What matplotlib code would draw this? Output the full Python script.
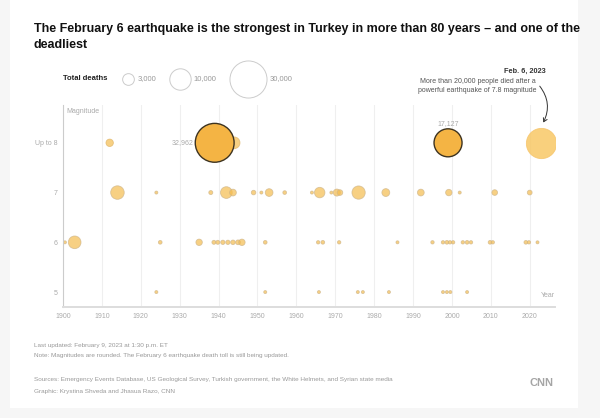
import numpy as np
import matplotlib.pyplot as plt
from matplotlib.patches import FancyArrowPatch, Rectangle

plt.rcParams['font.family'] = ['Liberation Sans', 'DejaVu Sans']

# ── Data: year of quake and total deaths, one list pair per magnitude row ──
years_m8  = [1912, 1944, 2023]
deaths_m8 = [1200, 3000, 20000]

years_m7  = [1914, 1924, 1938, 1942, 1943.7, 1949, 1951, 1953, 1957, 1964,
             1966, 1969, 1970.4, 1971.2, 1976, 1983, 1992, 1999.2, 2002, 2011, 2020]
deaths_m7 = [4000, 200, 350, 3000, 1000, 450, 200, 1300, 300, 200,
             2394, 200, 1086, 700, 3840, 1342, 1000, 900, 200, 700, 500]

years_m6  = [1900.5, 1903, 1925, 1935, 1938.8, 1939.8, 1941.1, 1942.4, 1943.7,
             1945, 1946, 1952, 1965.6, 1966.8, 1971, 1986, 1995, 1997.7, 1998.7,
             1999.5, 2000.3, 2002.8, 2003.9, 2004.9, 2009.8, 2010.5, 2019, 2019.8, 2022]
deaths_m6 = [200, 3500, 300, 900, 350, 350, 400, 400, 450,
             500, 900, 300, 250, 300, 250, 200, 250, 250, 300,
             250, 250, 250, 300, 250, 300, 250, 300, 250, 200]

years_m5  = [1924, 1952, 1965.8, 1975.8, 1977.1, 1983.8, 1997.7, 1998.7, 1999.6, 2003.9]
deaths_m5 = [200, 200, 200, 200, 200, 200, 200, 200, 200, 200]

# highlighted quakes (outlined + labelled)
hl_years  = [1939, 1999]
hl_mags   = [8, 8]
hl_deaths = [32962, 17127]

mag_ticks  = [8, 7, 6, 5]
mag_labels = ['Up to 8', '7', '6', '5']
decades    = list(range(1900, 2021, 10))
legend_vals = [3000, 10000, 30000]

W, H = 600, 418
K = 0.107  # radius px per sqrt(death)


def size_of(d):
    r_pt = K * np.sqrt(np.asarray(d, dtype=float)) * 72 / 100
    return (2 * r_pt) ** 2


def fx(px):
    return px / W


def fy(py):
    return 1 - py / H


fig = plt.figure(figsize=(6, 4.18), dpi=100)
fig.patch.set_facecolor('#f6f6f6')
fig.patches.append(Rectangle((fx(10), fy(408)), fx(568), 408 / H,
                             transform=fig.transFigure, facecolor='white',
                             edgecolor='none', zorder=-10))

ax = fig.add_axes([fx(63), fy(307), fx(492), (307 - 105) / H])
ax.set_facecolor('none')
ax.set_xlim(1900, 2026.5)
ax.set_ylim(4.7, 8.76)

for d in decades:
    ax.axvline(d, color='#efefef', lw=0.8, zorder=0)

face = '#F5BC4E'
edge = '#DDB264'
ax.scatter(years_m8[:2], [8] * 2, s=size_of(deaths_m8[:2]), color=face,
           alpha=0.7, edgecolors=edge, linewidths=0.6, zorder=2)
ax.scatter(years_m8[2:], [8], s=size_of(deaths_m8[2:]), color='#F8C866',
           alpha=0.85, edgecolors='#F6C46A', linewidths=0.6, zorder=2)
for yrs, dth, m in [(years_m7, deaths_m7, 7), (years_m6, deaths_m6, 6),
                    (years_m5, deaths_m5, 5)]:
    ax.scatter(yrs, [m] * len(yrs), s=size_of(dth), color=face, alpha=0.7,
               edgecolors='#CDB488', linewidths=0.6, zorder=2)

ax.scatter(hl_years, hl_mags, s=size_of(hl_deaths), color='#F4B444',
           edgecolors='#3d3320', linewidths=1.0, zorder=3)

r_hl = [K * np.sqrt(d) * 0.72 for d in hl_deaths]
ax.annotate(f'{hl_deaths[0]:,}', (hl_years[0], hl_mags[0]),
            xytext=(-r_hl[0] - 1.5, 0), textcoords='offset points',
            ha='right', va='center', fontsize=5, color='#aaaaaa')
ax.annotate(f'{hl_deaths[1]:,}', (hl_years[1], hl_mags[1]),
            xytext=(0, r_hl[1] + 1.5), textcoords='offset points',
            ha='center', va='bottom', fontsize=5, color='#aaaaaa')

for s in ['top', 'right']:
    ax.spines[s].set_visible(False)
ax.spines['left'].set_color('#cccccc')
ax.spines['left'].set_linewidth(0.8)
ax.spines['bottom'].set_color('#dddddd')
ax.spines['bottom'].set_linewidth(1.4)
ax.set_yticks(mag_ticks)
ax.set_yticklabels(mag_labels)
ax.set_xticks(decades)
ax.set_xticklabels([str(d) for d in decades])
ax.tick_params(length=0, labelsize=5, colors='#aaaaaa', pad=4)
ax.text(0.006, 0.985, 'Magnitude', transform=ax.transAxes, fontsize=5,
        color='#aaaaaa', ha='left', va='top')
ax.text(1.0, 0.04, 'Year', transform=ax.transAxes, fontsize=5,
        color='#aaaaaa', ha='right', va='bottom')

# title
fig.text(fx(34), fy(37), 'The February 6 earthquake is the strongest in Turkey in more than 80 years – and one of the\ndeadliest',
         fontsize=9, fontweight='bold', color='#111111', ha='left', va='center',
         linespacing=1.35)

# size legend
fig.text(fx(63), fy(79), 'Total deaths', fontsize=5.5, fontweight='bold',
         color='#222222', ha='left', va='center')
leg_x = [128, 180, 248]
lab_x = [138, 193, 270]
for v, cx, lx in zip(legend_vals, leg_x, lab_x):
    fig.add_artist(plt.Line2D([fx(cx)], [fy(79)], marker='o', linestyle='none',
                              markersize=np.sqrt(size_of(v)), markerfacecolor='white',
                              markeredgecolor='#cccccc', markeredgewidth=0.7,
                              transform=fig.transFigure))
    fig.text(fx(lx), fy(79), f'{v:,}', fontsize=5.5, color='#999999',
             ha='left', va='center')

# Feb 6 annotation
fig.text(fx(546), fy(71), 'Feb. 6, 2023', fontsize=5.3, fontweight='bold',
         color='#333333', ha='right', va='center')
fig.text(fx(536), fy(86), 'More than 20,000 people died after a\npowerful earthquake of 7.8 magnitude',
         fontsize=5, color='#555555', ha='right', va='center', linespacing=1.3)
arr = FancyArrowPatch((fx(538), fy(84)), (fx(542), fy(125)),
                      transform=fig.transFigure, connectionstyle='arc3,rad=-0.35',
                      arrowstyle='->,head_length=2.5,head_width=1.5',
                      color='#333333', lw=0.7)
fig.add_artist(arr)

# footer
foot = '#999999'
fig.text(fx(34), fy(345), 'Last updated: February 9, 2023 at 1:30 p.m. ET',
         fontsize=4.6, color=foot, ha='left', va='center')
fig.text(fx(34), fy(356), 'Note: Magnitudes are rounded. The February 6 earthquake death toll is still being updated.',
         fontsize=4.6, color=foot, ha='left', va='center')
fig.text(fx(34), fy(380), 'Sources: Emergency Events Database, US Geological Survey, Turkish government, the White Helmets, and Syrian state media',
         fontsize=4.6, color=foot, ha='left', va='center')
fig.text(fx(34), fy(391), 'Graphic: Krystina Shveda and Jhasua Razo, CNN',
         fontsize=4.6, color=foot, ha='left', va='center')
fig.text(fx(541), fy(383), 'CNN', fontsize=8, fontweight='bold', color='#a5a5a5',
         ha='center', va='center')

fig.savefig('out.png', dpi=100, facecolor=fig.get_facecolor())
